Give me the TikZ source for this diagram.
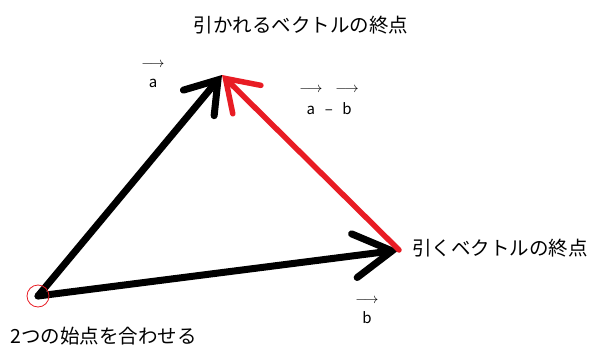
\documentclass[tikz,border=0pt]{standalone}
\usepackage{fontspec}
\setmainfont{Noto Sans CJK JP}
\usetikzlibrary{arrows.meta}
\definecolor{penred}{RGB}{232,28,36}

\begin{document}
\begin{tikzpicture}[x=1pt,y=-1pt,
    vec/.style={line width=7pt, line cap=round,
      -{Straight Barb[length=30pt,width=40pt,line cap=round]}}]
  \tikzset{lbl/.style={font=\fontsize{19.5}{22}\selectfont, inner sep=0pt},
    vlbl/.style={font=\fontsize{15}{20}\selectfont, inner sep=0pt, align=center}}
  \useasboundingbox (0,0) rectangle (589,348);
  \coordinate (O) at (38,296);
  \coordinate (A) at (222,75);
  \coordinate (B) at (399,250);
  \draw[vec] (O) -- (A);
  \draw[vec, -{Straight Barb[length=38pt,width=44pt,line cap=round]}] (O) -- (B);
  \draw[vec, penred, line width=5.5pt] (B) -- (A);
  \draw[penred, line width=0.8pt] (O) circle[radius=11pt];
  \node (endA) at (301,25) [lbl] {引かれるベクトルの終点};
  \node (endB) at (412,248) [lbl, anchor=west] {引くベクトルの終点};
  \node (start) at (10,336) [lbl, anchor=west] {2つの始点を合わせる};
  \node (la) at (153,75) [vlbl] {$\longrightarrow$\\a};
  \node (lb) at (367,311) [vlbl] {$\longrightarrow$\\b};
  \node (lab) at (329,99) [vlbl]
    {\begin{tabular}{@{}c@{}c@{}c@{}}$\longrightarrow$&\hspace{4pt}&$\longrightarrow$\\[2pt]a&\,–\,&b\end{tabular}};
\end{tikzpicture}
\end{document}
